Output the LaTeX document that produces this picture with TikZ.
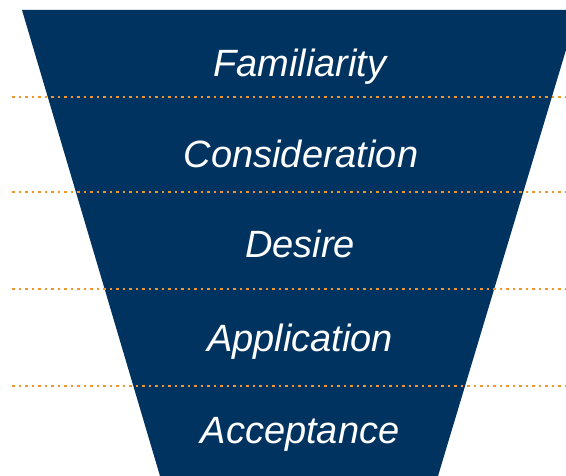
\documentclass[tikz,border=0pt]{standalone}
\usepackage{fontspec}
\setmainfont{Liberation Sans}
\usetikzlibrary{positioning}
\definecolor{funnelblue}{HTML}{003360}
\definecolor{dotorange}{HTML}{F0962E}

\begin{document}
\begin{tikzpicture}[x=1pt,y=-1pt,
        funnel/.style={fill=funnelblue,draw=none},
        divider/.style={dotorange,line width=2.5pt,dash pattern=on 2.5pt off 4pt},
        stagelabel/.style={white,anchor=base,inner sep=0pt,
            font=\fontsize{38}{45}\selectfont\itshape}]
    \useasboundingbox (0,0) rectangle (566,476);
    % funnel body
    \coordinate (tl) at (22,10);
    \coordinate (tr) at (578,10);
    \coordinate (br) at (438,476);
    \coordinate (bl) at (160,476);
    \fill[funnel] (tl) -- (tr) -- (br) -- (bl) -- cycle;
    % dividers between the stages
    \coordinate (d1l) at (12,97);  \coordinate (d1r) at (566,97);
    \coordinate (d2l) at (12,192); \coordinate (d2r) at (566,192);
    \coordinate (d3l) at (12,289); \coordinate (d3r) at (566,289);
    \coordinate (d4l) at (12,386); \coordinate (d4r) at (566,386);
    \draw[divider] (d1l) -- (d1r);
    \draw[divider] (d2l) -- (d2r);
    \draw[divider] (d3l) -- (d3r);
    \draw[divider] (d4l) -- (d4r);
    % stage labels
    \node[stagelabel] (familiarity) at (300,77) {Familiarity};
    \node[stagelabel] (consideration) at (301,168) {Consideration};
    \node[stagelabel] (desire) at (300,258) {Desire};
    \node[stagelabel] (application) at (300,352) {Application};
    \node[stagelabel] (acceptance) at (300,443) {Acceptance};
\end{tikzpicture}
\end{document}
